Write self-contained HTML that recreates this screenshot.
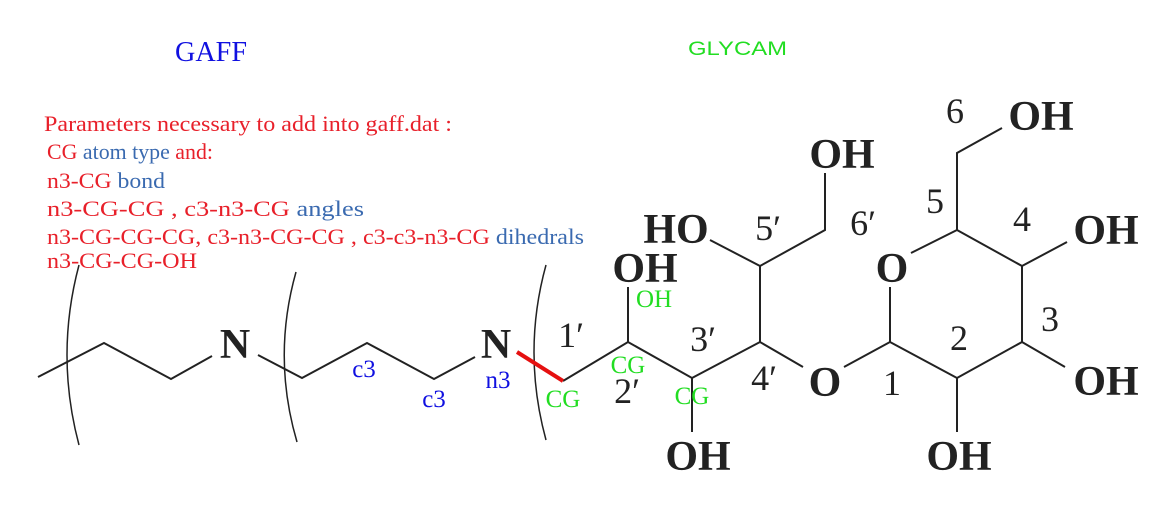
<!DOCTYPE html>
<html><head><meta charset="utf-8"><style>
html,body{margin:0;padding:0;background:#fff;}
svg{display:block;}
.b{font-family:"Liberation Serif",serif;font-weight:bold;font-size:42px;fill:#222;}
.n{font-family:"Liberation Serif",serif;font-size:36px;fill:#222;}
.s{font-family:"Liberation Serif",serif;font-size:22.5px;}
</style></head><body>
<svg width="1159" height="511" viewBox="0 0 1159 511" xmlns="http://www.w3.org/2000/svg">
<text x="211" y="61" text-anchor="middle" font-family="Liberation Serif,serif" font-size="28" fill="#1010e0" textLength="72" lengthAdjust="spacingAndGlyphs">GAFF</text>
<text x="688" y="55" font-family="Liberation Sans,sans-serif" font-size="19" fill="#22dd22" textLength="99" lengthAdjust="spacingAndGlyphs">GLYCAM</text>
<g class="s">
<text x="44" y="131" fill="#e8202a" textLength="408" lengthAdjust="spacingAndGlyphs">Parameters necessary to add into gaff.dat :</text>
<text x="47" y="159" textLength="166" lengthAdjust="spacingAndGlyphs"><tspan fill="#e8202a">CG </tspan><tspan fill="#3a6ab0">atom type </tspan><tspan fill="#e8202a">and:</tspan></text>
<text x="47" y="188" textLength="118" lengthAdjust="spacingAndGlyphs"><tspan fill="#e8202a">n3-CG </tspan><tspan fill="#3a6ab0">bond</tspan></text>
<text x="47" y="216" textLength="317" lengthAdjust="spacingAndGlyphs"><tspan fill="#e8202a">n3-CG-CG , c3-n3-CG </tspan><tspan fill="#3a6ab0">angles</tspan></text>
<text x="47" y="244" textLength="537" lengthAdjust="spacingAndGlyphs"><tspan fill="#e8202a">n3-CG-CG-CG, c3-n3-CG-CG , c3-c3-n3-CG </tspan><tspan fill="#3a6ab0">dihedrals</tspan></text>
<text x="47" y="268" fill="#e8202a" textLength="150" lengthAdjust="spacingAndGlyphs">n3-CG-CG-OH</text>
</g>
<g stroke="#222" stroke-width="2" fill="none">
<polyline points="38,377 104,343 171,379 212,356"/>
<polyline points="258,355 302,378 367,343 434,379 475,357"/>
<polyline points="563,381 628,342 692,378 760,342 803,367"/>
<polyline points="844,367 890,342 957,378 1022,342 1022,266 957,230 911,253"/>
<line x1="890" y1="342" x2="890" y2="287"/>
<line x1="1022" y1="342" x2="1065" y2="367"/>
<line x1="1022" y1="266" x2="1067" y2="242"/>
<polyline points="957,230 957,153 1002,128"/>
<line x1="957" y1="378" x2="957" y2="432"/>
<line x1="692" y1="378" x2="692" y2="432"/>
<line x1="628" y1="342" x2="628" y2="287"/>
<polyline points="760,342 760,266 710,240"/>
<polyline points="760,266 825,230 825,173"/>
<path d="M79,265 Q55,355 79,445" stroke-width="1.5"/>
<path d="M296,272 Q272,357 297,442" stroke-width="1.5"/>
<path d="M546,265 Q522,352 546,440" stroke-width="1.5"/>
</g>
<line x1="517" y1="352" x2="563" y2="381" stroke="#e51010" stroke-width="4"/>
<g class="b" text-anchor="middle">
<text x="235" y="358">N</text>
<text x="496" y="358">N</text>
<text x="825" y="396">O</text>
<text x="892" y="282">O</text>
<text x="645" y="282">OH</text>
<text x="676" y="243">HO</text>
<text x="842" y="168">OH</text>
<text x="1041" y="130">OH</text>
<text x="1106" y="244">OH</text>
<text x="1106" y="395">OH</text>
<text x="959" y="470">OH</text>
<text x="698" y="470">OH</text>
</g>
<g class="n" text-anchor="middle">
<text x="571" y="347">1′</text>
<text x="627" y="403">2′</text>
<text x="703" y="351">3′</text>
<text x="764" y="390">4′</text>
<text x="768" y="240">5′</text>
<text x="863" y="235">6′</text>
<text x="892" y="395">1</text>
<text x="959" y="350">2</text>
<text x="1050" y="331">3</text>
<text x="1022" y="231">4</text>
<text x="935" y="213">5</text>
<text x="955" y="123">6</text>
</g>
<g font-family="Liberation Serif,serif" font-size="25" text-anchor="middle">
<text x="364" y="377" fill="#1010e0">c3</text>
<text x="434" y="407" fill="#1010e0">c3</text>
<text x="498" y="388" fill="#1010e0">n3</text>
<text x="563" y="407" fill="#22dd22">CG</text>
<text x="628" y="373" fill="#22dd22">CG</text>
<text x="692" y="404" fill="#22dd22">CG</text>
<text x="654" y="307" fill="#22dd22">OH</text>
</g>
</svg>
</body></html>
